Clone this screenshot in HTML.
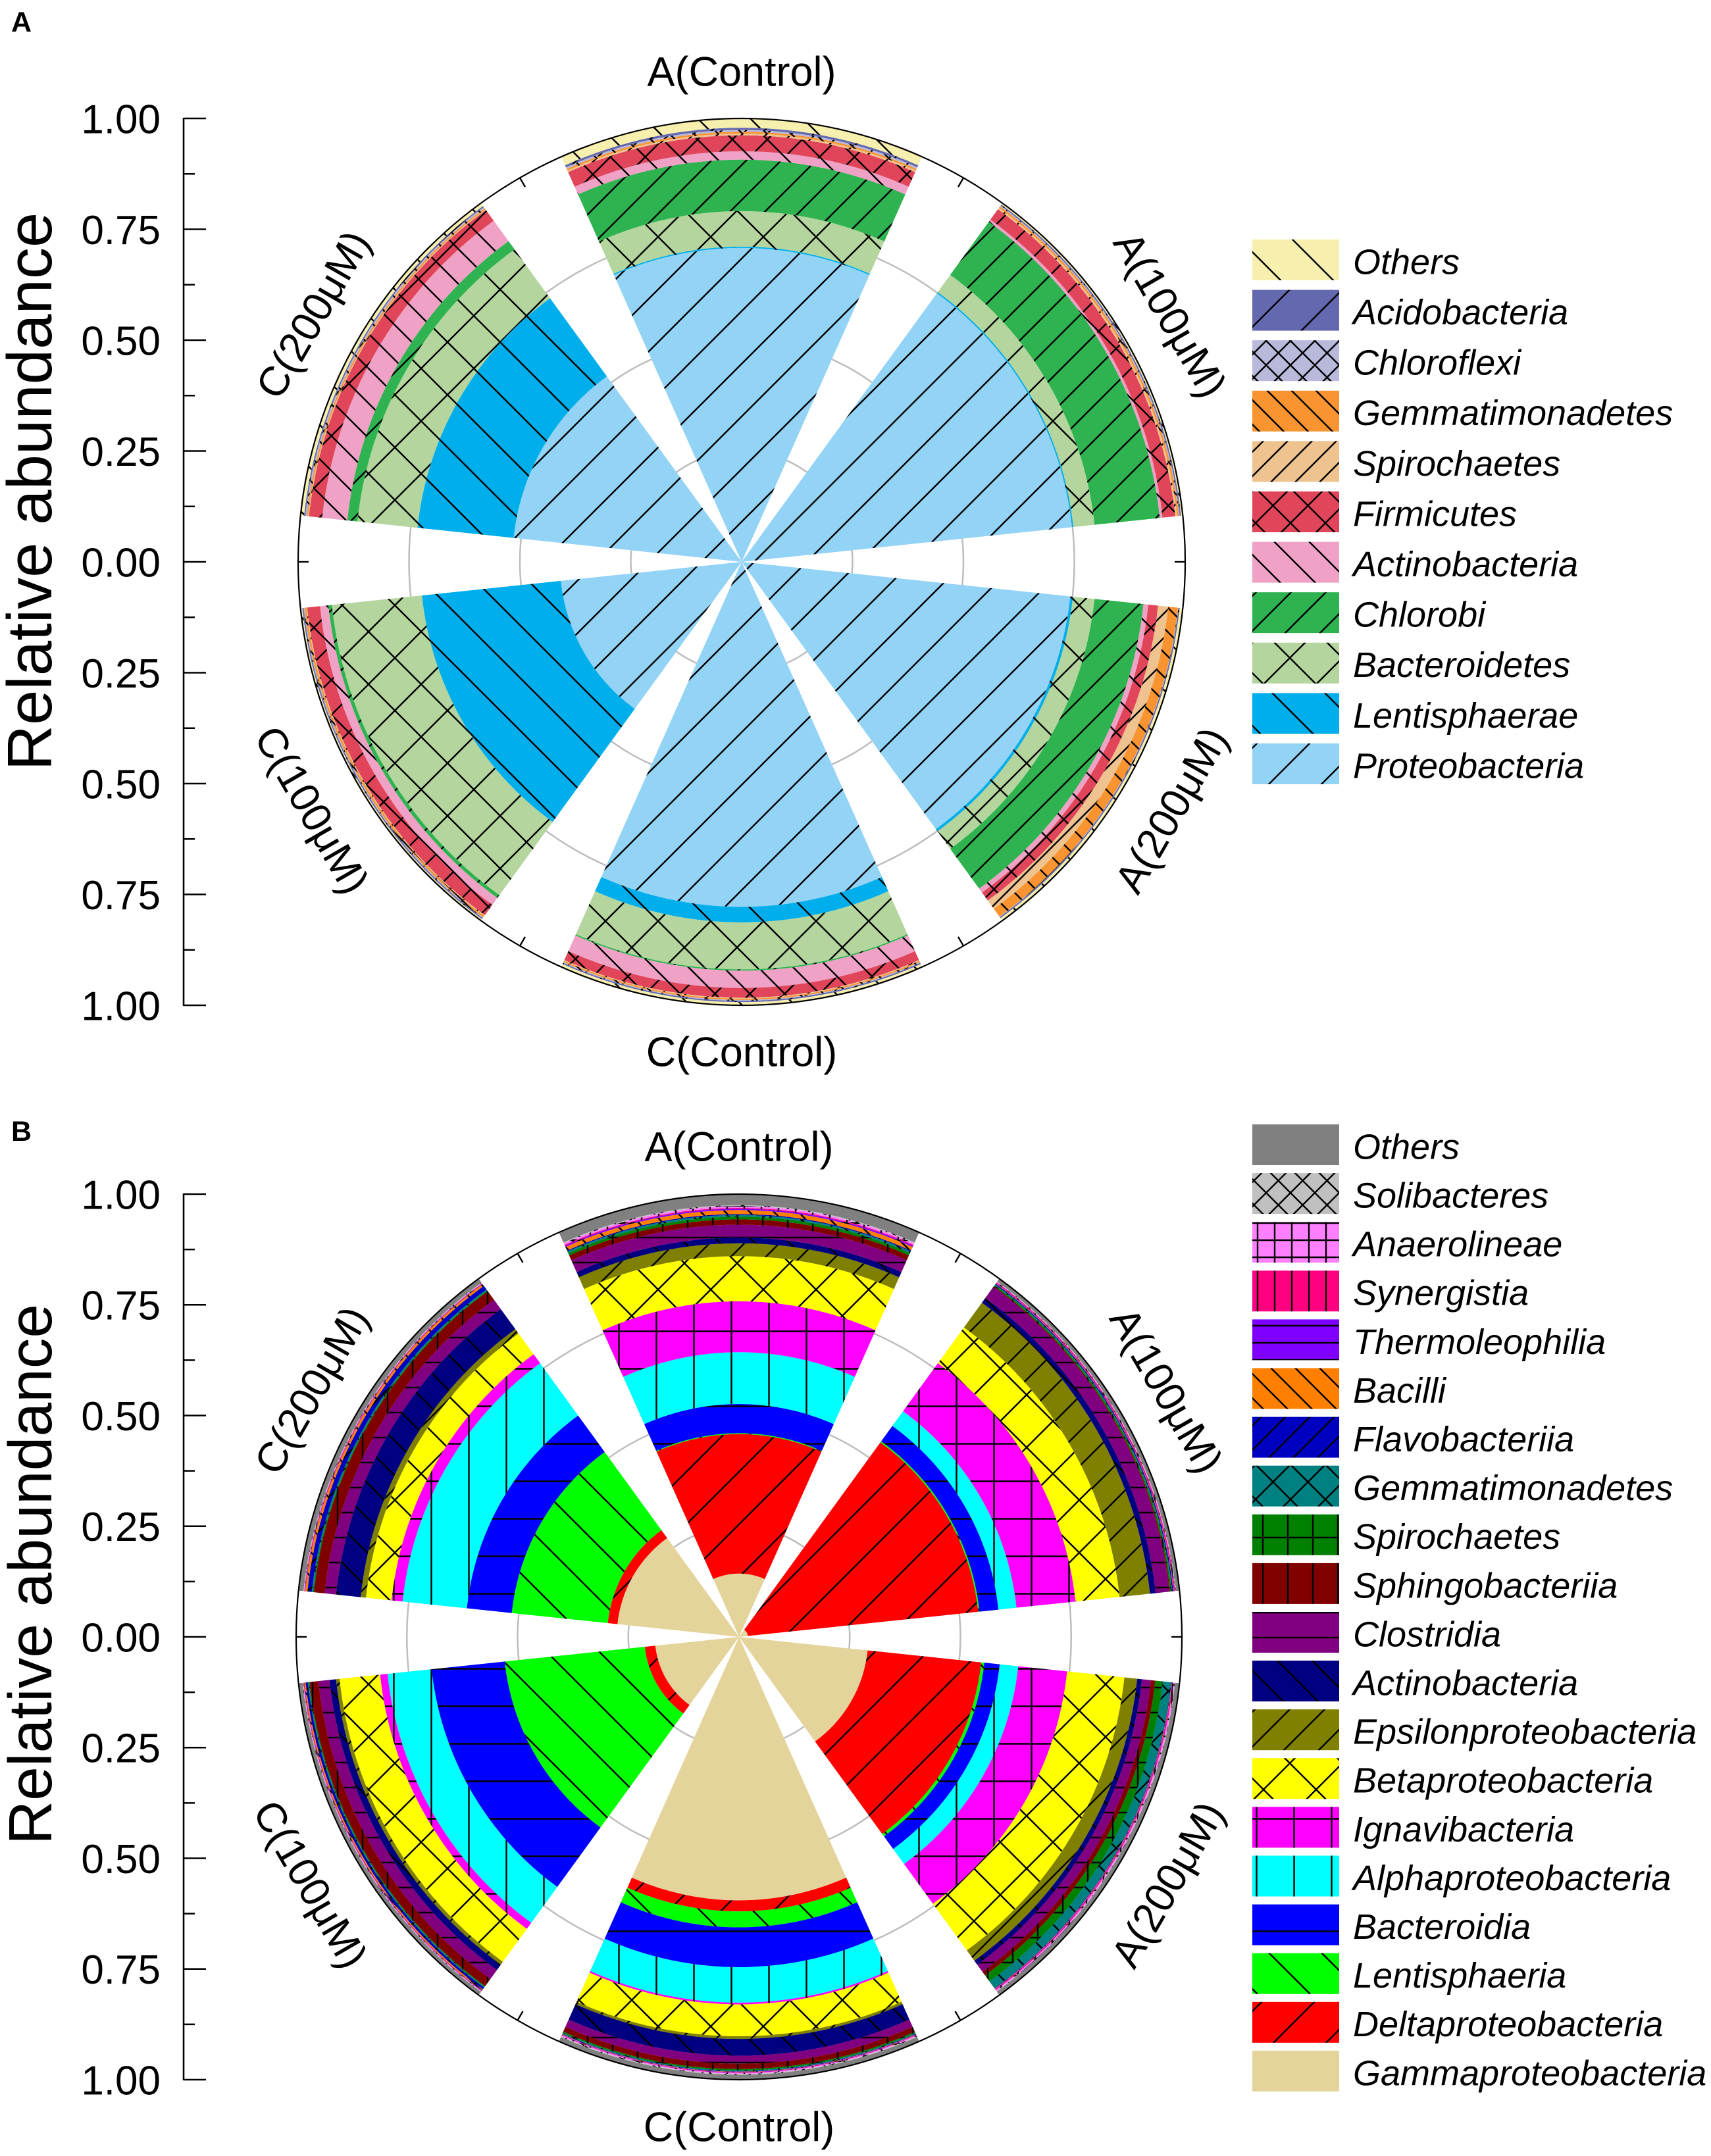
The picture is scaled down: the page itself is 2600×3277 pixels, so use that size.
<!DOCTYPE html>
<html lang="en">
<head>
<meta charset="utf-8">
<title>Relative abundance polar stacked bars</title>
<style>
html,body{margin:0;padding:0;background:#fff;}
svg{display:block;font-family:"Liberation Sans",Arial,sans-serif;}
</style>
</head>
<body>
<svg id="figure" xmlns="http://www.w3.org/2000/svg" width="2600" height="3277" viewBox="0 0 2600 3277">
<defs id="defs"></defs>
<rect x="0" y="0" width="2600" height="3277" fill="#ffffff"></rect>
</svg>
<script>
// ---- shared categories and ticks ----
const sectorLabels = ['A(Control)', 'A(100μM)', 'A(200μM)', 'C(Control)', 'C(100μM)', 'C(200μM)'];
const majorTicks = [1, 0.75, 0.5, 0.25, 0, -0.25, -0.5, -0.75, -1];
const minorTicks = [0.875, 0.625, 0.375, 0.125, -0.125, -0.375, -0.625, -0.875];
const gridValues = [0.25, 0.5, 0.75];

// ---- panel A (phylum): values per sector, in sectorLabels order ----
const taxaA = ['Proteobacteria', 'Lentisphaerae', 'Bacteroidetes', 'Chlorobi', 'Actinobacteria', 'Firmicutes', 'Spirochaetes', 'Gemmatimonadetes', 'Chloroflexi', 'Acidobacteria', 'Others'];
const proteobacteriaA = [0.708, 0.749, 0.745, 0.778, 0.410, 0.517];
const lentisphaeraeA = [0.003, 0.003, 0.006, 0.035, 0.315, 0.218];
const bacteroidetesA = [0.080, 0.048, 0.049, 0.106, 0.204, 0.136];
const chlorobiA = [0.116, 0.148, 0.111, 0.003, 0.008, 0.023];
const actinobacteriaA = [0.019, 0.006, 0.011, 0.039, 0.019, 0.057];
const firmicutesA = [0.036, 0.029, 0.022, 0.022, 0.029, 0.030];
const spirochaetesA = [0.004, 0.004, 0.023, 0.002, 0.002, 0.002];
const gemmatimonadetesA = [0.004, 0.004, 0.022, 0.003, 0.004, 0.003];
const chloroflexiA = [0.004, 0.002, 0.001, 0.002, 0.002, 0.003];
const acidobacteriaA = [0.005, 0.003, 0.003, 0.003, 0.003, 0.003];
const othersA = [0.021, 0.004, 0.007, 0.007, 0.004, 0.008];
const seriesA = [proteobacteriaA, lentisphaeraeA, bacteroidetesA, chlorobiA, actinobacteriaA, firmicutesA, spirochaetesA, gemmatimonadetesA, chloroflexiA, acidobacteriaA, othersA];
const colorsA = ['#93D3F5', '#00AEEB', '#B4D69E', '#2FB350', '#EFA1C6', '#E0455A', '#EFC38F', '#F99430', '#B9B9DB', '#6469AF', '#F7EFAE'];
const hatchesA = ['/80', '\\80', 'x80', '/53', '\\53', 'x53', '/37', '\\37', 'x37', '/80', '\\80'];

// ---- panel B (class): values per sector, in sectorLabels order ----
const taxaB = ['Gammaproteobacteria', 'Deltaproteobacteria', 'Lentisphaeria', 'Bacteroidia', 'Alphaproteobacteria', 'Ignavibacteria', 'Betaproteobacteria', 'Epsilonproteobacteria', 'Actinobacteria', 'Clostridia', 'Sphingobacteriia', 'Spirochaetes', 'Gemmatimonadetes', 'Flavobacteriia', 'Bacilli', 'Thermoleophilia', 'Synergistia', 'Anaerolineae', 'Solibacteres', 'Others'];
const gammaB = [0.143, 0.020, 0.292, 0.595, 0.190, 0.276];
const deltaB = [0.315, 0.523, 0.258, 0.025, 0.024, 0.022];
const lentisphaeriaB = [0.002, 0.003, 0.007, 0.036, 0.318, 0.218];
const bacteroidiaB = [0.066, 0.043, 0.035, 0.090, 0.166, 0.102];
const alphaB = [0.117, 0.041, 0.042, 0.080, 0.100, 0.146];
const ignavibacteriaB = [0.115, 0.134, 0.111, 0.004, 0.017, 0.025];
const betaB = [0.102, 0.100, 0.130, 0.072, 0.092, 0.058];
const epsilonB = [0.029, 0.069, 0.029, 0.006, 0.008, 0.012];
const actinobacteriaB = [0.013, 0.013, 0.011, 0.038, 0.015, 0.056];
const clostridiaB = [0.029, 0.031, 0.020, 0.018, 0.025, 0.026];
const sphingobacteriiaB = [0.012, 0.002, 0.010, 0.012, 0.020, 0.024];
const spirochaetesB = [0.006, 0.003, 0.017, 0.003, 0.002, 0.002];
const gemmatimonadetesB = [0.004, 0.002, 0.019, 0.002, 0.002, 0.003];
const flavobacteriiaB = [0.002, 0.002, 0.001, 0.001, 0.005, 0.010];
const bacilliB = [0.009, 0.001, 0.001, 0.001, 0.003, 0.005];
const thermoleophiliaB = [0.003, 0.001, 0.001, 0.001, 0.001, 0.001];
const synergistiaB = [0.002, 0.002, 0.002, 0.001, 0.001, 0.001];
const anaerolineaeB = [0.004, 0.001, 0.003, 0.002, 0.001, 0.001];
const solibacteresB = [0.002, 0.001, 0.001, 0.002, 0.001, 0.001];
const othersB = [0.025, 0.008, 0.010, 0.011, 0.009, 0.011];
const seriesB = [gammaB, deltaB, lentisphaeriaB, bacteroidiaB, alphaB, ignavibacteriaB, betaB, epsilonB, actinobacteriaB, clostridiaB, sphingobacteriiaB, spirochaetesB, gemmatimonadetesB, flavobacteriiaB, bacilliB, thermoleophiliaB, synergistiaB, anaerolineaeB, solibacteresB, othersB];
const colorsB = ['#E4D49C', '#FF0000', '#00FF00', '#0000FF', '#00FFFF', '#FF00FF', '#FFFF00', '#808000', '#000080', '#800080', '#800000', '#008000', '#008080', '#0000C0', '#FF8000', '#8000FF', '#FF0080', '#FF80FF', '#C0C0C0', '#808080'];
const hatchesB = ['', '/80', '\\80', '-57', '|57', '+57', 'x80', '/53', '\\53', '-38', '|38', '+38', 'x53', '/37', '\\37', '-26', '|26', '+26', 'x37', ''];

const NS = 'http://www.w3.org/2000/svg';
const svg = document.getElementById('figure');
const defs = document.getElementById('defs');

function make(tag, attrs, parent) {
  const el = document.createElementNS(NS, tag);
  for (const k in attrs) el.setAttribute(k, attrs[k]);
  parent.appendChild(el);
  return el;
}

function slug(s) {
  return s.toLowerCase().replace(/[^a-z0-9]+/g, '-').replace(/-+$/, '');
}

function hatchPath(type, p) {
  const slash = 'M0 ' + p + 'L' + p + ' 0M-3 3L3 -3M' + (p - 3) + ' ' + (p + 3) + 'L' + (p + 3) + ' ' + (p - 3);
  const back = 'M0 0L' + p + ' ' + p + 'M' + (p - 3) + ' -3L' + (p + 3) + ' 3M-3 ' + (p - 3) + 'L3 ' + (p + 3);
  const vert = 'M' + (p / 2) + ' 0V' + p;
  const horiz = 'M0 ' + (p / 2) + 'H' + p;
  if (type === '/') return slash;
  if (type === '\\') return back;
  if (type === 'x') return slash + back;
  if (type === '|') return vert;
  if (type === '-') return horiz;
  return vert + horiz;
}

function makeFill(id, color, hatch, tx, ty) {
  if (!hatch) return color;
  const type = hatch.charAt(0);
  const p = Number(hatch.slice(1));
  const pat = make('pattern', {id: id, patternUnits: 'userSpaceOnUse', width: p, height: p, patternTransform: 'translate(' + tx + ' ' + ty + ')'}, defs);
  make('rect', {x: 0, y: 0, width: p, height: p, fill: color}, pat);
  make('path', {d: hatchPath(type, p), stroke: '#000', 'stroke-width': 2.4, fill: 'none'}, pat);
  return 'url(#' + id + ')';
}

function drawPanel(cfg) {
  const g = make('g', {}, svg);
  
  
  const rScale = function (v) { return v * cfg.R; };
  const yScale = function (v) { return cfg.cy - v * cfg.R; };
  const pt = function (deg, r) {
    const a = deg * Math.PI / 180;
    return (cfg.cx + r * Math.sin(a)).toFixed(2) + ' ' + (cfg.cy - r * Math.cos(a)).toFixed(2);
  };

  const letter = make('text', {x: cfg.letterX, y: cfg.letterY, 'font-size': 43, 'font-weight': 'bold', fill: '#000'}, g);
  letter.textContent = cfg.key.toUpperCase();
  
  

  const title = make('text', {transform: 'translate(' + cfg.titleX + ' ' + cfg.titleY + ') rotate(-90)', 'text-anchor': 'middle', 'font-size': cfg.titleSize, fill: '#000'}, g);
  title.textContent = 'Relative abundance';
  
  

  // grid rings
  gridValues.forEach(function (v) {
    const ring = make('circle', {cx: cfg.cx, cy: cfg.cy, r: rScale(v), fill: 'none', stroke: '#BDBDBD', 'stroke-width': 2.5}, g);
    
    
  });

  // fills
  const fills = cfg.taxa.map(function (t, i) {
    return makeFill(cfg.key + '-fill-' + i, cfg.colors[i], cfg.hatches[i], cfg.tx, cfg.ty);
  });

  // stacked sectors
  sectorLabels.forEach(function (label, s) {
    const mid = s * 60;
    const a0 = mid - 24;
    const a1 = mid + 24;
    let base = 0;
    cfg.series.forEach(function (values, i) {
      const top = base + values[s];
      const r0 = rScale(base);
      const r1 = rScale(top);
      let d = 'M' + pt(a0, r1) + 'A' + r1 + ' ' + r1 + ' 0 0 1 ' + pt(a1, r1);
      if (r0 > 0) {
        d += 'L' + pt(a1, r0) + 'A' + r0 + ' ' + r0 + ' 0 0 0 ' + pt(a0, r0) + 'Z';
      } else {
        d += 'L' + cfg.cx + ' ' + cfg.cy + 'Z';
      }
      const bar = make('path', {d: d, fill: fills[i]}, g);
      
      
      base = top;
    });
  });

  // outer ring and gap ticks
  const outer = make('circle', {cx: cfg.cx, cy: cfg.cy, r: cfg.R, fill: 'none', stroke: '#000', 'stroke-width': 2.2}, g);
  
  
  sectorLabels.forEach(function (label, s) {
    const deg = s * 60 + 30;
    const tick = make('path', {d: 'M' + pt(deg, cfg.R) + 'L' + pt(deg, cfg.R - 16), stroke: '#000', 'stroke-width': 2.4, fill: 'none'}, g);
    
    
  });

  // sector labels
  sectorLabels.forEach(function (label, s) {
    const deg = s * 60;
    const rot = deg <= 60 ? deg : (deg < 300 ? deg - 180 : deg - 360);
    const radius = deg === 0 ? cfg.labelTop : (deg === 180 ? cfg.labelBottom : cfg.labelSide);
    const p = pt(deg, radius).split(' ');
    const t = make('text', {transform: 'translate(' + p[0] + ' ' + p[1] + ') rotate(' + rot + ')', 'text-anchor': 'middle', dy: '0.36em', 'font-size': 63, fill: '#000'}, g);
    t.textContent = label;
    
    
  });

  // radial axis
  const axis = make('line', {x1: cfg.axisX, x2: cfg.axisX, y1: yScale(1) - 1, y2: yScale(-1) + 1, stroke: '#000', 'stroke-width': 2.6}, g);
  
  
  majorTicks.forEach(function (v) {
    const tick = make('line', {x1: cfg.axisX, x2: cfg.axisX + 34, y1: yScale(v), y2: yScale(v), stroke: '#000', 'stroke-width': 2.4}, g);
    
    
    const t = make('text', {x: cfg.axisX - 35, y: yScale(v), dy: '0.36em', 'text-anchor': 'end', 'font-size': 62, fill: '#000'}, g);
    t.textContent = Math.abs(v).toFixed(2);
    
    
  });
  minorTicks.forEach(function (v) {
    const tick = make('line', {x1: cfg.axisX, x2: cfg.axisX + 17, y1: yScale(v), y2: yScale(v), stroke: '#000', 'stroke-width': 2.4}, g);
    
    
  });

  // legend, top row is the last stacked taxon
  const n = cfg.taxa.length;
  cfg.taxa.forEach(function (name, i) {
    const row = n - 1 - i;
    const yc = cfg.legendY + row * cfg.legendStep;
    const sw = make('rect', {x: 1903, y: yc - 31, width: 132, height: 62, fill: fills[i]}, g);
    
    
    const t = make('text', {x: 2056, y: yc + 2, dy: '0.36em', 'font-size': 54, 'font-style': 'italic', fill: '#000'}, g);
    t.textContent = name;
    
    
  });
}

drawPanel({
  key: 'a', cx: 1127, cy: 854, R: 674, axisX: 279,
  labelTop: 746, labelBottom: 744, labelSide: 753,
  titleX: 78, titleY: 747, titleSize: 96, letterX: 17, letterY: 48,
  legendY: 395, legendStep: 76.6, tx: 0, ty: 0,
  taxa: taxaA, series: seriesA, colors: colorsA, hatches: hatchesA
});
drawPanel({
  key: 'b', cx: 1123, cy: 2488, R: 673, axisX: 279,
  labelTop: 746, labelBottom: 744, labelSide: 751,
  titleX: 78, titleY: 2393, titleSize: 93, letterX: 17, letterY: 1734,
  legendY: 1740, legendStep: 74.1, tx: 0, ty: 0,
  taxa: taxaB, series: seriesB, colors: colorsB, hatches: hatchesB
});
</script>
</body>
</html>
